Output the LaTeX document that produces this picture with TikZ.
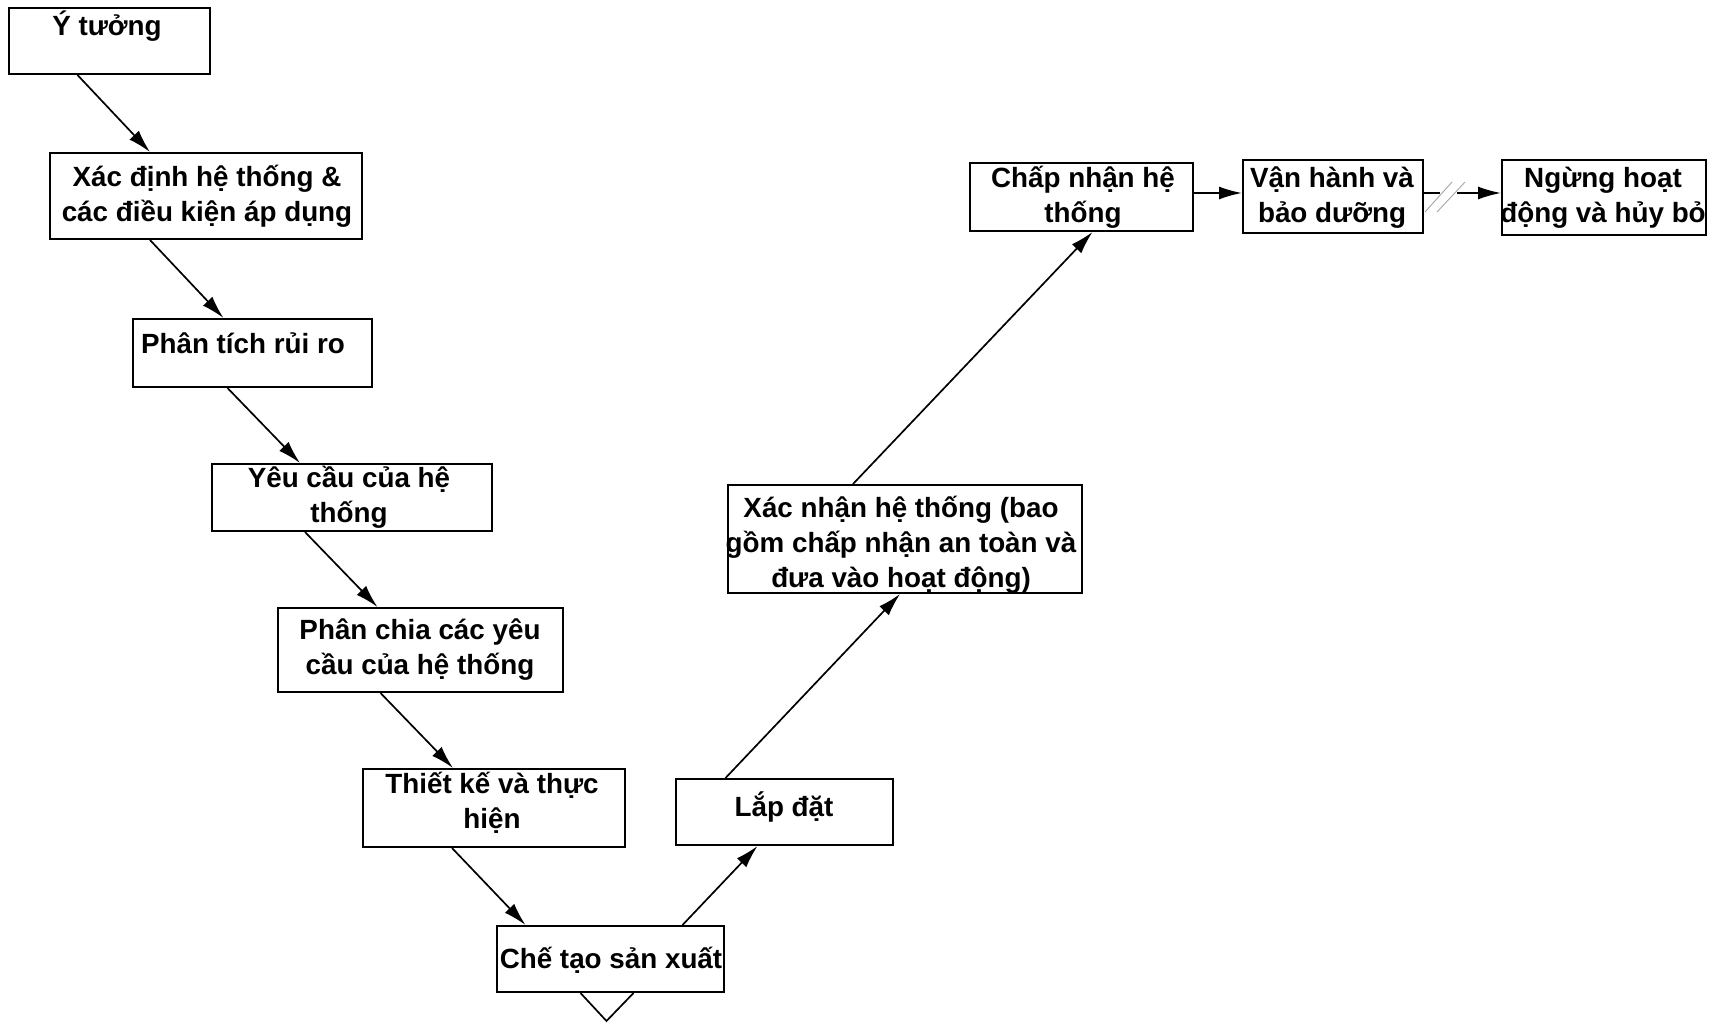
\documentclass[tikz,border=0pt]{standalone}
\usepackage{fontspec}
\setmainfont{Liberation Sans}
\usetikzlibrary{arrows.meta,calc}
\tikzset{
  box/.style={draw=black, line width=2pt, inner sep=0pt, fill=white},
  txt/.style={font=\fontsize{27.8}{35}\selectfont\bfseries, align=center, inner sep=0pt, anchor=base},
  conn/.style={line width=1.7pt, -{Latex[length=23pt,width=13pt]}},
  plain/.style={line width=1.7pt},
  brk/.style={draw=gray!70, line width=0.9pt}
}
\begin{document}
\begin{tikzpicture}[x=1pt,y=-1pt]
\useasboundingbox (0,0) rectangle (1720,1023);
% boxes
\node[box, minimum width=201, minimum height=66] (A) at (109.5,41) {};
\node[box, minimum width=312, minimum height=86] (B) at (206,196) {};
\node[box, minimum width=239, minimum height=68] (C) at (252.5,353) {};
\node[box, minimum width=280, minimum height=67] (D) at (352,497.5) {};
\node[box, minimum width=285, minimum height=84] (E) at (420.5,650) {};
\node[box, minimum width=262, minimum height=78] (F) at (494,808) {};
\node[box, minimum width=227, minimum height=66] (G) at (610.5,959) {};
\node[box, minimum width=217, minimum height=66] (H) at (784.5,812) {};
\node[box, minimum width=354, minimum height=108] (I) at (905,539) {};
\node[box, minimum width=223, minimum height=68] (J) at (1081.5,197) {};
\node[box, minimum width=180, minimum height=73] (K) at (1333,196.5) {};
\node[box, minimum width=204, minimum height=75] (L) at (1604,197.5) {};
% texts (anchor = baseline of the last line)
\node[txt] (tA) at (107,35) {Ý tưởng};
\node[txt] (tB) at (207,221) {Xác định hệ thống \&\\các điều kiện áp dụng};
\node[txt] (tC) at (243,353) {Phân tích rủi ro};
\node[txt] (tD) at (349,522) {Yêu cầu của hệ\\thống};
\node[txt] (tE) at (420,674) {Phân chia các yêu\\cầu của hệ thống};
\node[txt] (tF) at (492,828) {Thiết kế và thực\\hiện};
\node[txt] (tG) at (611,968) {Chế tạo sản xuất};
\node[txt] (tH) at (784,816) {Lắp đặt};
\node[txt] (tI) at (901,587) {Xác nhận hệ thống (bao\\gồm chấp nhận an toàn và\\đưa vào hoạt động)};
\node[txt] (tJ) at (1083,222) {Chấp nhận hệ\\thống};
\node[txt] (tK) at (1332,222) {Vận hành và\\bảo dưỡng};
\node[txt] (tL) at (1603,222) {Ngừng hoạt\\động và hủy bỏ};
% connectors
\draw[conn] ([xshift=-32pt]A.south) -- ([xshift=-56pt]B.north);
\draw[conn] ([xshift=-56pt]B.south) -- ([xshift=-29pt]C.north);
\draw[conn] ([xshift=-25pt]C.south) -- ([xshift=-52pt]D.north);
\draw[conn] ([xshift=-47pt]D.south) -- ([xshift=-43pt]E.north);
\draw[conn] ([xshift=-40pt]E.south) -- ([xshift=-41pt]F.north);
\draw[conn] ([xshift=-42pt]F.south) -- ([xshift=-85pt]G.north);
\draw[conn] ([xshift=72pt]G.north) -- ([xshift=-27pt]H.south);
\draw[conn] ([xshift=-59pt]H.north) -- ([xshift=-5pt]I.south);
\draw[conn] ([xshift=-52pt]I.north) -- ([xshift=11pt]J.south);
\draw[conn] (J.east |- 0,193) -- (K.west |- 0,193);
% broken connector K -> L
\coordinate (b1) at (1440,193);
\coordinate (b2) at (1457,193);
\draw[plain] (K.east |- b1) -- (b1);
\draw[conn] (b2) -- (L.west |- b2);
\draw[brk] (1425,212) -- (1452,182);
\draw[brk] (1437,212) -- (1465,182);
% V mark below G
\draw[plain] ([xshift=-30pt]G.south) -- ([xshift=-4pt,yshift=-28pt]G.south) -- ([xshift=23pt]G.south);
\end{tikzpicture}
\end{document}
